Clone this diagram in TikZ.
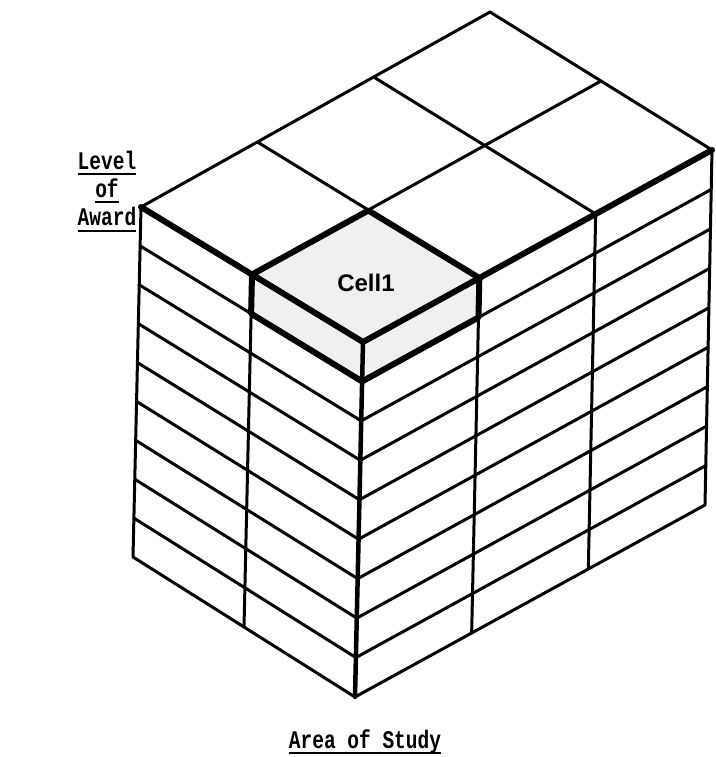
\documentclass[tikz,border=0pt]{standalone}
\usepackage{fontspec}
\setmainfont{Liberation Serif}
\newfontfamily\typefont{Liberation Mono}
\newfontfamily\cellfont{Liberation Sans}
\usetikzlibrary{calc}
\begin{document}
\begin{tikzpicture}[x=1pt,y=-1pt,
  thinline/.style={line width=3pt,line join=round,line cap=round},
  thickline/.style={line width=6pt,line join=round,line cap=round},
  frontline/.style={line width=4.5pt,line cap=round},
  typetext/.style={font=\typefont\bfseries\fontsize{19.5}{19.5}\selectfont, inner sep=0pt},
  uline/.style={line width=2.2pt}]
\useasboundingbox[fill=white] (0,0) rectangle (715,757);
% corners
\coordinate (L) at (141,207);
\coordinate (F) at (363,342);
\coordinate (R) at (712,150);
\coordinate (B) at (490,12);
\coordinate (Lb) at (133,557);
\coordinate (Fb) at (355,697);
\coordinate (Rb) at (705,505);
% cell 1 points
\coordinate (P1) at ($(L)!0.5!(F)$);
\coordinate (P2) at ($(F)!1/3!(R)$);
\coordinate (Q) at ($(P1)+(P2)-(F)$);
\coordinate (L1) at ($(L)!1/9!(Lb)$);
\coordinate (F1) at ($(F)!1/9!(Fb)$);
\coordinate (R1) at ($(R)!1/9!(Rb)$);
\coordinate (P1d) at ($(L1)!0.5!(F1)$);
\coordinate (P2d) at ($(F1)!1/3!(R1)$);
% shading of cell 1
\fill[black!6] (P1) -- (Q) -- (P2) -- (P2d) -- (F1) -- (P1d) -- cycle;
% layers of the side faces
\foreach \k in {1,...,8}{
  \draw[thinline] ($(L)!\k/9!(Lb)$) -- ($(F)!\k/9!(Fb)$) -- ($(R)!\k/9!(Rb)$);
}
\draw[thinline] (L) -- (Lb) -- (Fb) -- (Rb) -- (R);
% vertical divisions
\draw[thinline] (P1) -- ($(Lb)!0.5!(Fb)$);
\draw[thinline] (P2) -- ($(Fb)!1/3!(Rb)$);
\draw[thinline] ($(F)!2/3!(R)$) -- ($(Fb)!2/3!(Rb)$);
% top face
\draw[thinline] (L) -- (B) -- (R);
\draw[thinline] (P1) -- ($(B)!0.5!(R)$);
\draw[thinline] ($(F)!1/3!(R)$) -- ($(L)!1/3!(B)$);
\draw[thinline] ($(F)!2/3!(R)$) -- ($(L)!2/3!(B)$);
% front edge
\draw[frontline] (F) -- (Fb);
% thick outlines
\draw[thickline] (L) -- (F) -- (R);
\draw[thickline] (P1) -- (Q) -- (P2);
\draw[thickline] (P1) -- (P1d) -- (F1) -- (P2d) -- (P2);
% labels
\node[font=\cellfont\bfseries\fontsize{24}{24}\selectfont, inner sep=0pt] (cell) at (366,283) {Cell1};
\node[typetext, anchor=base] (lev) at (107,169) {\scalebox{1}[1.3]{Level}};
\node[typetext, anchor=base] (of) at (107,197) {\scalebox{1}[1.3]{of}};
\node[typetext, anchor=base] (awd) at (107,225) {\scalebox{1}[1.3]{Award}};
\node[typetext, anchor=base] (area) at (365,748) {\scalebox{1}[1.3]{Area of Study}};
\draw[uline] ([yshift=-5pt]lev.base west) -- ([yshift=-5pt]lev.base east);
\draw[uline] ([yshift=-5pt]of.base west) -- ([yshift=-5pt]of.base east);
\draw[uline] ([yshift=-6pt]awd.base west) -- ([yshift=-6pt]awd.base east);
\draw[uline] ([yshift=-5pt]area.base west) -- ([yshift=-5pt]area.base east);
\end{tikzpicture}
\end{document}
